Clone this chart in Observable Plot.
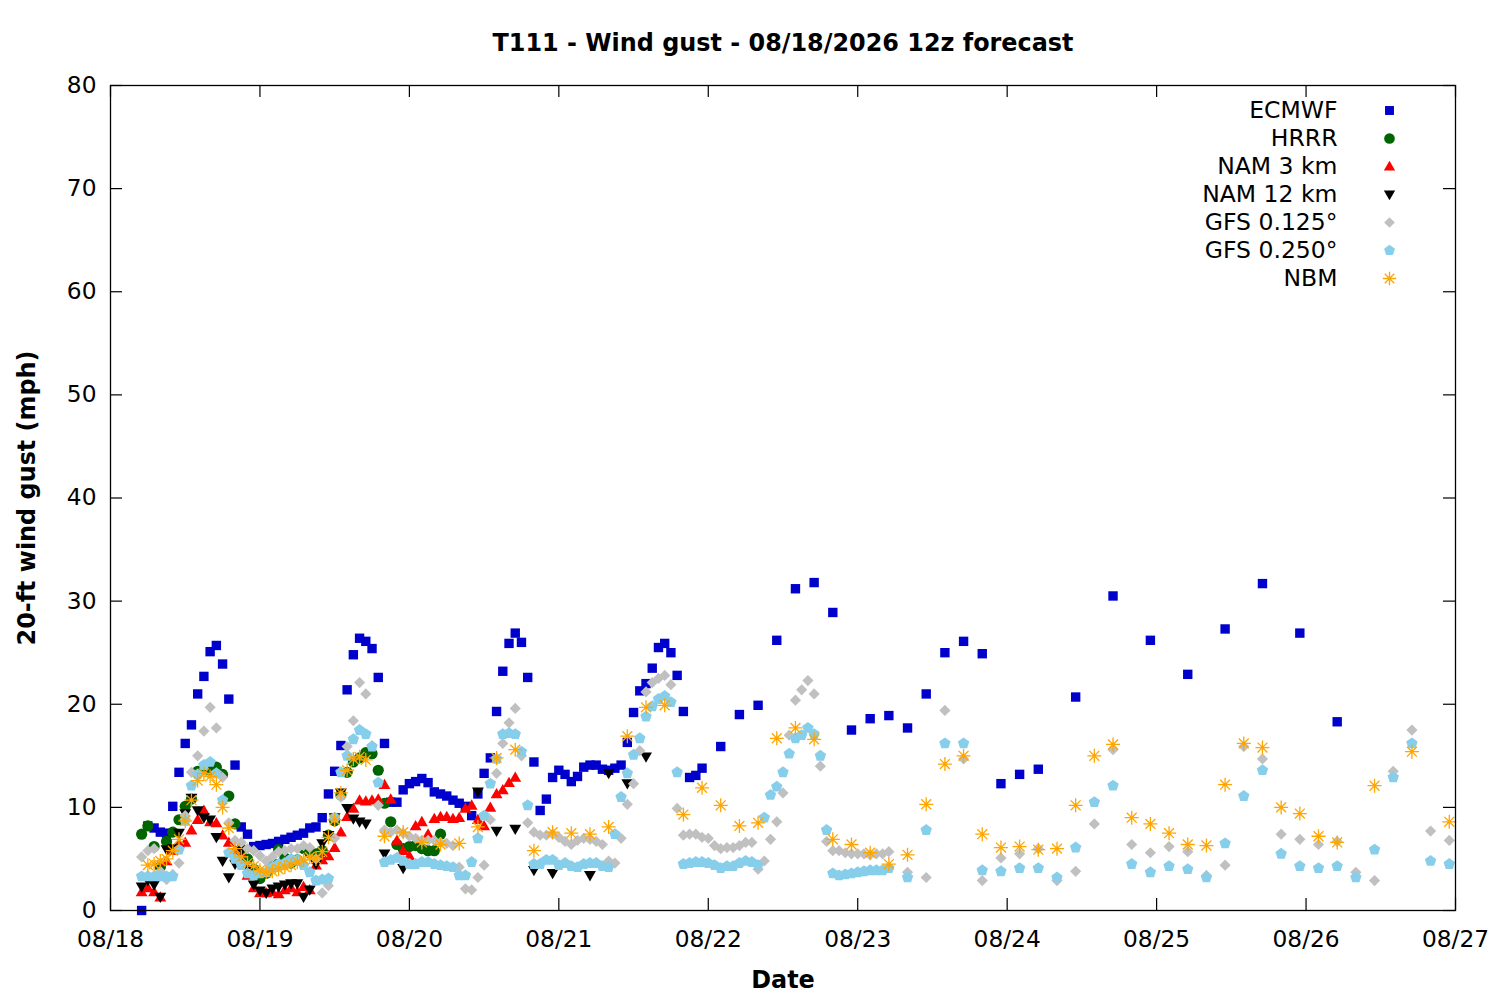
<!DOCTYPE html>
<html><head><meta charset="utf-8">
<script src="https://cdn.jsdelivr.net/npm/d3@7"></script>
<script src="https://cdn.jsdelivr.net/npm/@observablehq/plot@0.6"></script>
<style>body{margin:0;background:#fff}</style>
</head><body><div id="chart"></div>
<script>
// ---- text ----
const title = "T111 - Wind gust - 08/18/2026 12z forecast";
const xLabel = "Date";
const yLabel = "20-ft wind gust (mph)";
const seriesNames = ["ECMWF","HRRR","NAM 3 km","NAM 12 km","GFS 0.125°","GFS 0.250°","NBM"];
const seriesColors = ["#0000cc","#006400","#ff0000","#000000","#c0c0c0","#87ceeb","#ffa500"];
const yTicks = [0,10,20,30,40,50,60,70,80];
const dayTicks = d3.utcDay.range(new Date(Date.UTC(2026,7,18)), new Date(Date.UTC(2026,7,27,1)));
const runStart = Date.UTC(2026,7,18,5); // first forecast hour (local)

// ---- data (forecast hour -> mph) ----
const ecmwfHourly = [
 0.0,8.2,8.0,7.6,7.5,10.1,13.4,16.2,18.0,21.0,
 22.7,25.1,25.7,23.9,20.5,14.1,8.1,7.4,6.2,6.3,
 6.4,6.5,6.7,6.9,7.1,7.3,7.5,8.0,8.1,9.0,
 11.3,13.5,16.0,21.4,24.8,26.4,26.1,25.4,22.6,16.2,
 10.5,10.5,11.7,12.3,12.5,12.8,12.4,11.5,11.3,11.1,
 10.7,10.4,10.1,9.2,11.3,13.3,14.8,19.3,23.2,25.9,
 26.9,26.0,22.6,14.4,9.7,10.8,12.9,13.6,13.2,12.5,
 13.0,13.9,14.1,14.1,13.7,13.6,13.8,14.1,16.3,19.2,
 21.3,22.0,23.5,25.5,25.9,25.0,22.8,19.3,12.9,13.1,
 13.8];
const ecmwf3h = [15.9,19.0,19.9,26.2,31.2,31.8,28.9,17.5,18.6,18.9,17.7,21.0,25.0,26.1,24.9,12.3,13.2,13.7];
const ecmwf6h = [20.7,30.5,26.2,22.9,27.3,31.7,26.9,18.3];

const hrrrHourly = [
 7.4,8.2,6.2,4.2,6.7,7.6,8.8,10.1,10.8,13.5,
 13.8,13.6,13.9,13.2,11.1,8.4,6.0,5.0,4.0,3.1,
 3.6,4.6,5.9,5.1,4.6,4.9,6.0,5.6,5.5,5.8,
 7.3,8.7,11.2,13.4,14.4,14.8,15.3,15.2,13.6,10.4,
 8.6,6.4,6.0,6.2,6.3,6.0,5.8,5.8,7.4];

const nam3Hourly = [
 1.8,2.2,1.8,1.3,4.8,5.8,6.5,6.6,7.8,8.8,
 9.7,8.6,8.5,7.3,6.6,5.8,5.5,3.4,2.2,1.7,
 1.7,1.8,1.6,2.0,2.2,1.8,2.3,2.0,4.4,4.9,
 5.3,6.1,7.6,9.1,9.9,10.7,10.6,10.7,10.8,12.2,
 10.8,6.8,5.8,5.3,8.2,8.6,7.4,8.9,9.1,9.1,
 8.9,9.0,9.9,10.2,8.8,8.2,10.0,11.3,11.7,12.4,12.9];

const nam12Hourly = [
 2.3,2.9,2.5,1.3,5.9,6.0,7.5,9.4,10.9,9.7,
 9.0,8.8,7.1,4.8,3.2,4.5,5.8,4.0,2.5,1.9,
 1.7,2.1,2.3,2.5,2.6,2.6,1.3,2.0,4.5,6.5,
 7.3,9.0,11.4,9.9,8.9,8.6,8.4];
const nam12LaterHours = [39,42,54,57,60,63,66,72,75,78,81];
const nam12Later = [5.5,4.1,11.5,7.7,7.9,3.9,3.6,3.4,13.3,12.3,14.9];

const gfs125Hourly = [
 5.2,5.8,6.0,3.8,3.0,3.5,4.6,9.2,13.4,15.0,
 17.4,19.7,17.7,12.9,8.5,6.8,6.6,6.0,5.8,5.3,
 4.8,5.2,5.7,5.8,6.0,6.0,6.3,6.1,5.0,1.7,
 2.4,7.0,11.0,15.9,18.4,22.1,21.0,16.0,10.2,7.8,
 7.6,7.8,7.5,7.2,7.0,6.8,6.8,6.8,6.6,6.5,
 6.3,4.2,2.1,2.0,3.2,4.4,8.8,13.3,16.2,18.2,
 19.6,15.0,8.5,7.6,7.3,7.3,7.4,7.1,6.7,6.4,
 6.8,7.0,6.9,6.7,6.4,4.8,4.6,7.0,10.3,12.3,
 15.5,21.2,22.1,22.5,22.8,21.9,9.9,7.3,7.4,7.4,
 7.1,7.0,6.3,6.0,6.1,6.1,6.3,6.6,6.6,4.0,
 4.8,6.9,8.6,11.4,17.0,20.4,21.4,22.3,21.0,14.0,
 6.7,5.8,5.8,5.6,5.5,5.5,5.5,5.4,5.5,5.5,5.7];
const gfs125_3h = [3.7,3.2,19.4,14.7,2.9,5.1,5.5,6.0,2.9,3.8,8.4,15.6,6.4,5.6,6.2,5.7,3.4,4.4,15.9,14.7,7.4,6.9,6.4,6.7,3.7,2.9,13.5,17.5,7.7,6.8];

const gfs250Hourly = [
 3.3,3.3,3.3,3.3,3.3,3.3,5.9,8.7,12.1,13.2,
 14.1,14.4,13.3,10.7,5.6,5.0,4.4,3.6,3.4,3.6,
 3.7,4.2,4.5,4.6,5.0,4.9,4.4,3.7,2.9,3.0,
 3.1,9.0,13.4,15.0,16.6,17.5,17.1,15.9,12.4,4.7,
 4.9,5.1,4.8,4.5,4.5,4.7,4.7,4.5,4.4,4.3,
 4.2,3.4,3.4,4.7,7.0,9.2,12.3,14.7,17.1,17.2,
 17.1,15.4,10.2,4.5,4.5,4.9,4.9,4.4,4.6,4.3,
 4.2,4.5,4.6,4.6,4.3,4.2,7.4,11.0,13.3,15.1,
 16.7,18.8,19.8,20.5,20.8,20.2,13.4,4.5,4.6,4.7,
 4.7,4.6,4.4,4.1,4.3,4.3,4.6,4.8,4.7,4.4,
 9.0,11.2,12.0,13.4,15.2,16.7,17.0,17.7,17.1,15.0,
 7.8,3.6,3.4,3.5,3.6,3.7,3.8,3.9,3.9,3.9,4.1];
const gfs250_3h = [3.2,7.8,16.2,16.2,3.9,3.8,4.1,4.1,3.2,6.1,10.5,12.1,4.5,3.7,4.3,4.0,3.2,6.5,11.1,13.6,5.5,4.3,4.1,4.3,3.2,5.9,12.9,16.2,4.8,4.5];

const nbmHourly = [
 4.4,4.5,4.8,5.0,5.8,6.9,8.7,10.7,12.6,13.3,
 13.0,12.2,10.0,8.0,6.0,5.2,4.6,4.3,3.9,3.7,
 3.8,4.0,4.2,4.4,4.7,4.9,5.2,5.0,5.7,7.1,
 8.8,11.4,13.6,14.7,14.9,14.6];
const nbm3h = [7.2,7.6,6.6,6.4,6.5,8.1,14.8,15.6,5.8,7.6,
 7.5,7.4,8.1,16.9,19.7,19.9,9.3,11.9,10.2,8.2,
 8.5,16.7,17.7,16.6,6.9,6.4,5.6,4.5,5.4,10.3,
 14.2,15.0,7.4,6.1,6.2,5.9,6.0,10.2,15.0,16.1,
 9.0,8.4,7.5,6.4,6.3,12.2,16.2,15.8,10.0,9.4,7.2];
const nbm6h = [6.6,12.1,15.4,8.6];

// ---- build tables ----
const T = h => new Date(runStart + h * 3600000);
function table(parts){
  const out = [];
  for (const [hours, vals] of parts) vals.forEach((v,i) => out.push({t: T(hours[i]), v}));
  return out;
}
const ecmwf = table([[d3.range(0,91), ecmwfHourly],[d3.range(93,145,3), ecmwf3h],[d3.range(150,193,6), ecmwf6h]]);
const hrrr = table([[d3.range(0,49), hrrrHourly]]);
const nam3 = table([[d3.range(0,61), nam3Hourly]]);
const nam12 = table([[d3.range(0,37), nam12Hourly],[nam12LaterHours, nam12Later]]);
const gfs125 = table([[d3.range(0,121), gfs125Hourly],[d3.range(123,211,3), gfs125_3h]]);
const gfs250 = table([[d3.range(0,121), gfs250Hourly],[d3.range(123,211,3), gfs250_3h]]);
const nbm = table([[d3.range(1,37), nbmHourly],[d3.range(39,190,3), nbm3h],[d3.range(192,211,6), nbm6h]]);

// ---- gnuplot-like symbols ----
const R = s => Math.sqrt(s / Math.PI);
const symSquare = {draw(c,s){const r=R(s); c.rect(-r,-r,2*r,2*r);}};
const symCircle = {draw(c,s){const r=R(s); c.moveTo(r,0); c.arc(0,0,r,0,2*Math.PI);}};
const symTriUp = {draw(c,s){const r=R(s); c.moveTo(0,-1.1*r); c.lineTo(1.1*r,0.8*r); c.lineTo(-1.1*r,0.8*r); c.closePath();}};
const symTriDown = {draw(c,s){const r=R(s); c.moveTo(0,1.1*r); c.lineTo(1.1*r,-0.8*r); c.lineTo(-1.1*r,-0.8*r); c.closePath();}};
const symDiamond = {draw(c,s){const r=R(s); c.moveTo(0,-r); c.lineTo(r,0); c.lineTo(0,r); c.lineTo(-r,0); c.closePath();}};
const symPentagon = {draw(c,s){const r=R(s); for(let k=0;k<5;k++){const a=-Math.PI/2+k*2*Math.PI/5; const x=r*Math.cos(a), y=r*Math.sin(a); k?c.lineTo(x,y):c.moveTo(x,y);} c.closePath();}};
const symAster = {draw(c,s){const r=R(s); for(let k=0;k<4;k++){const a=k*Math.PI/4; c.moveTo(r*Math.cos(a),r*Math.sin(a)); c.lineTo(-r*Math.cos(a),-r*Math.sin(a));}}};

const series = [
  {data: ecmwf, symbol: symSquare, r: 4.7, fill: true},
  {data: hrrr, symbol: symCircle, r: 5.6, fill: true},
  {data: nam3, symbol: symTriUp, r: 5.4, fill: true},
  {data: nam12, symbol: symTriDown, r: 5.4, fill: true},
  {data: gfs125, symbol: symDiamond, r: 5.6, fill: true},
  {data: gfs250, symbol: symPentagon, r: 6.0, fill: true},
  {data: nbm, symbol: symAster, r: 7.0, fill: false}
];

const fw = 1500 - 110 - 45, fh = 1000 - 85 - 90, tick = 12;

const marks = [];
series.forEach((s, i) => {
  const col = seriesColors[i];
  const style = s.fill ? {fill: col, stroke: "none"} : {fill: "none", stroke: col, strokeWidth: 1.3};
  marks.push(Plot.dot(s.data, {x: "t", y: "v", symbol: s.symbol, r: s.r, ...style}));
  // legend
  marks.push(Plot.text([seriesNames[i]], {text: d => d, frameAnchor: "top-right", dx: -118, dy: 25 + 28 * i, textAnchor: "end", lineAnchor: "middle", fill: "black", fontSize: 23.5}));
  marks.push(Plot.dot([seriesNames[i]], {frameAnchor: "top-right", dx: -66, dy: 25 + 28 * i, symbol: s.symbol, r: s.r * 0.95, ...style}));
});

const chart = Plot.plot({
  width: 1500, height: 1000,
  marginLeft: 110, marginRight: 45, marginTop: 85, marginBottom: 90,
  style: {fontFamily: "DejaVu Sans", fontSize: "23.3px", color: "black", background: "white"},
  x: {type: "utc", domain: [new Date(Date.UTC(2026,7,18)), new Date(Date.UTC(2026,7,27))]},
  y: {domain: [0, 80]},
  marks: [
    Plot.ruleX(dayTicks, {insetTop: fh - tick, stroke: "black", strokeWidth: 1.2}),
    Plot.ruleX(dayTicks, {insetBottom: fh - tick, stroke: "black", strokeWidth: 1.2}),
    Plot.ruleY(yTicks, {insetRight: fw - tick, stroke: "black", strokeWidth: 1.2}),
    Plot.ruleY(yTicks, {insetLeft: fw - tick, stroke: "black", strokeWidth: 1.2}),
    Plot.axisX(dayTicks, {tickSize: 0, tickPadding: 20, tickFormat: d3.utcFormat("%m/%d"), label: null}),
    Plot.axisY(yTicks, {tickSize: 0, tickPadding: 14, label: null}),
    ...marks,
    Plot.frame({stroke: "black", strokeWidth: 1.3}),
    Plot.text([title], {text: d => d, frameAnchor: "top", dy: -42, lineAnchor: "middle", fontWeight: "bold", fontSize: 23.9}),
    Plot.text([xLabel], {text: d => d, frameAnchor: "bottom", dy: 70, lineAnchor: "middle", fontWeight: "bold", fontSize: 23.9}),
    Plot.text([yLabel], {text: d => d, frameAnchor: "left", dx: -83, rotate: -90, textAnchor: "middle", lineAnchor: "middle", fontWeight: "bold", fontSize: 23.9})
  ]
});
document.getElementById("chart").appendChild(chart);
</script></body></html>
